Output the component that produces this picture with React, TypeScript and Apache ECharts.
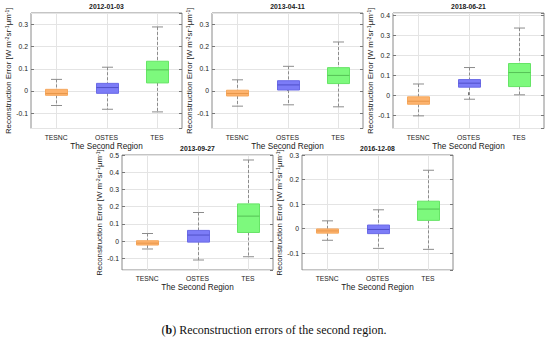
import React, { useEffect, useRef } from 'react';
import * as echarts from 'echarts';

const categories = ['TESNC', 'OSTES', 'TES'];
const panelTitles = ['2012-01-03', '2013-04-11', '2018-06-21', '2013-09-27', '2016-12-08'];
const xAxisTitle = 'The Second Region';
const caption = '(b) Reconstruction errors of the second region.';

// each box: [lower whisker, Q1, median, Q3, upper whisker]
const boxes20120103 = [
  [-0.066, -0.02, -0.012, 0.007, 0.052],
  [-0.083, -0.011, 0.015, 0.034, 0.107],
  [-0.095, 0.036, 0.095, 0.134, 0.289],
];
const boxes20130411 = [
  [-0.069, -0.023, -0.012, 0.003, 0.05],
  [-0.063, 0.004, 0.027, 0.046, 0.111],
  [-0.072, 0.033, 0.07, 0.105, 0.221],
];
const boxes20180621 = [
  [-0.103, -0.045, -0.03, -0.008, 0.056],
  [-0.02, 0.04, 0.06, 0.078, 0.138],
  [0.002, 0.043, 0.113, 0.158, 0.335],
];
const boxes20130927 = [
  [-0.046, -0.023, -0.012, 0.002, 0.044],
  [-0.11, -0.006, 0.035, 0.062, 0.166],
  [-0.091, 0.05, 0.145, 0.216, 0.471],
];
const boxes20161208 = [
  [-0.047, -0.018, -0.009, -0.001, 0.032],
  [-0.08, -0.02, -0.003, 0.015, 0.077],
  [-0.084, 0.034, 0.08, 0.112, 0.238],
];
const panelBoxes = [boxes20120103, boxes20130411, boxes20180621, boxes20130927, boxes20161208];
const yMinValues = [-0.17, -0.17, -0.166, -0.168, -0.168];
const yMaxValues = [0.352, 0.352, 0.41, 0.5, 0.3];

const fills = ['#FDB36E', '#7C7CF7', '#7DF97D'];
const edges = ['#F5A85E', '#6A6AE6', '#66E466'];
const medians = ['#E8964A', '#5050C8', '#55C055'];

const grids = [
  { left: 31, top: 13, width: 151, height: 115.5 },
  { left: 212, top: 13, width: 151, height: 115.5 },
  { left: 393, top: 13, width: 151, height: 115.5 },
  { left: 122, top: 155, width: 151, height: 115 },
  { left: 302, top: 155, width: 151, height: 115 },
];

const FONT = 'Liberation Sans, Arial, sans-serif';
const TXT = '#1a1a1a';

export default function App() {
  const ref = useRef<HTMLDivElement>(null);
  useEffect(() => {
    if (!ref.current) return;
    const chart = echarts.init(ref.current, undefined, { renderer: 'svg' });
    const xAxis: any[] = [];
    const yAxis: any[] = [];
    const series: any[] = [];
    const graphic: any[] = [];
    grids.forEach((g, i) => {
      xAxis[i] = {
        type: 'category', gridIndex: i, data: categories, position: 'bottom',
        axisLine: { show: false },
        axisTick: { show: true, inside: true, alignWithLabel: true, length: 3, lineStyle: { color: '#777' } },
        axisLabel: { fontSize: 6.8, color: TXT, fontFamily: FONT, margin: 5 },
        splitLine: { show: false },
        name: xAxisTitle, nameLocation: 'middle', nameGap: 13.5,
        nameTextStyle: { fontSize: 8.2, color: TXT, fontFamily: FONT },
      };
      xAxis[5 + i] = {
        type: 'category', gridIndex: i, data: categories, position: 'top',
        axisLine: { show: false },
        axisTick: { show: true, inside: true, alignWithLabel: true, length: 3, lineStyle: { color: '#777' } },
        axisLabel: { show: false }, splitLine: { show: false },
      };
      yAxis[i] = {
        type: 'value', gridIndex: i, position: 'left',
        min: yMinValues[i], max: yMaxValues[i], splitNumber: 5,
        axisLine: { show: false },
        axisTick: { show: true, inside: true, length: 3, lineStyle: { color: '#777' } },
        axisLabel: { fontSize: 6.8, color: TXT, fontFamily: FONT, margin: 3, showMinLabel: false, showMaxLabel: yMaxValues[i] === 0.5 || yMaxValues[i] === 0.3 },
        splitLine: { show: true, lineStyle: { color: '#e4e4e4', width: 1 } },
        name: 'Reconstruction Error [W m{sup|-2}sr{sup|-1}\u03bcm{sup|-1}]',
        nameLocation: 'middle', nameRotate: 90, nameGap: 19,
        nameTextStyle: {
          fontSize: 7.9, color: TXT, fontFamily: FONT,
          rich: { sup: { fontSize: 5.2, color: TXT, fontFamily: FONT, verticalAlign: 'top' } },
        },
      };
      yAxis[5 + i] = {
        type: 'value', gridIndex: i, position: 'right',
        min: yMinValues[i], max: yMaxValues[i], splitNumber: 5,
        axisLine: { show: false },
        axisTick: { show: true, inside: true, length: 3, lineStyle: { color: '#777' } },
        axisLabel: { show: false }, splitLine: { show: false },
      };
      series.push({
        type: 'custom', xAxisIndex: i, yAxisIndex: i,
        data: panelBoxes[i].map((b, j) => [j, ...b]),
        encode: { x: 0, y: [1, 2, 3, 4, 5] },
        renderItem: (params: any, api: any) => {
          const j = api.value(0);
          const cx = Math.round(api.coord([j, 0])[0]) + 0.5;
          const yLo = api.coord([j, api.value(1)])[1];
          const yQ1 = api.coord([j, api.value(2)])[1];
          const yMed = api.coord([j, api.value(3)])[1];
          const yQ3 = api.coord([j, api.value(4)])[1];
          const yHi = api.coord([j, api.value(5)])[1];
          const cs = params.coordSys;
          const bw = 22;
          const cw = 11;
          return {
            type: 'group',
            children: [
              { type: 'line', shape: { x1: cx, y1: cs.y, x2: cx, y2: cs.y + cs.height }, style: { stroke: '#e4e4e4', lineWidth: 1 } },
              { type: 'line', shape: { x1: cx, y1: yHi, x2: cx, y2: yQ3 }, style: { stroke: '#8c8c8c', lineWidth: 1, lineDash: [3, 2] } },
              { type: 'line', shape: { x1: cx, y1: yQ1, x2: cx, y2: yLo }, style: { stroke: '#8c8c8c', lineWidth: 1, lineDash: [3, 2] } },
              { type: 'line', shape: { x1: cx - cw / 2, y1: yHi, x2: cx + cw / 2, y2: yHi }, style: { stroke: '#8c8c8c', lineWidth: 1 } },
              { type: 'line', shape: { x1: cx - cw / 2, y1: yLo, x2: cx + cw / 2, y2: yLo }, style: { stroke: '#8c8c8c', lineWidth: 1 } },
              { type: 'rect', shape: { x: cx - bw / 2, y: yQ3, width: bw, height: yQ1 - yQ3 }, style: { fill: fills[j], stroke: edges[j], lineWidth: 1 } },
              { type: 'line', shape: { x1: cx - bw / 2, y1: yMed, x2: cx + bw / 2, y2: yMed }, style: { stroke: medians[j], lineWidth: 1 } },
            ],
          };
        },
      });
      graphic.push({
        type: 'text', x: g.left + g.width / 2, y: g.top - 6.5,
        style: { text: panelTitles[i], textAlign: 'center', textVerticalAlign: 'middle', font: `bold 6.8px ${FONT}`, fill: TXT },
      });
    });
    graphic.push({
      type: 'text', x: 274, y: 330,
      style: {
        text: '{b|(}{bb|b}{b|) Reconstruction errors of the second region.}',
        textAlign: 'center', textVerticalAlign: 'middle',
        rich: {
          b: { fontSize: 12, fontFamily: 'Liberation Serif, serif', fill: '#111' },
          bb: { fontSize: 12, fontFamily: 'Liberation Serif, serif', fontWeight: 'bold', fill: '#111' },
        },
      },
    });
    chart.setOption({
      animation: false,
      backgroundColor: '#ffffff',
      grid: grids.map((g) => ({ ...g, show: true, borderColor: '#8a8a8a', borderWidth: 1, backgroundColor: '#fff', containLabel: false })),
      xAxis, yAxis, series, graphic,
    });
    return () => chart.dispose();
  }, []);
  return <div ref={ref} style={{ position: 'absolute', left: 0, top: 0, width: 550, height: 340 }} />;
}
